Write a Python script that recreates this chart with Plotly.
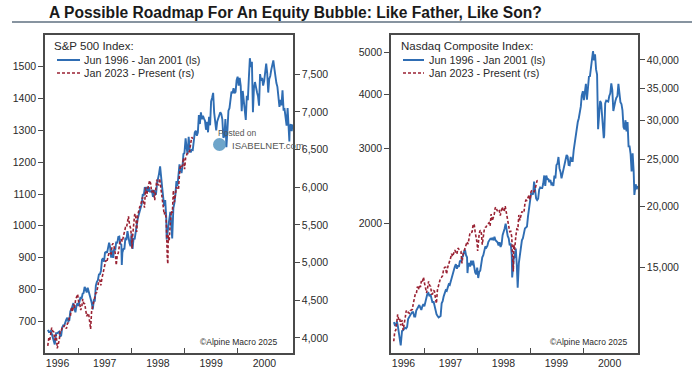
import pandas as pd
import numpy as np
import plotly.graph_objects as go

# ---------------- DATA ----------------
# S&P 500, Jun 1996 - Jan 2001 (left scale)
sp_old = [
("1996-06-07",673),("1996-06-14",666),("1996-06-21",666),("1996-06-28",671),
("1996-07-05",657),("1996-07-12",646),("1996-07-19",638),("1996-07-24",627),("1996-07-26",635),
("1996-08-02",662),("1996-08-09",662),("1996-08-16",665),("1996-08-23",667),("1996-08-30",652),
("1996-09-06",655),("1996-09-13",680),("1996-09-20",687),("1996-09-27",686),
("1996-10-04",701),("1996-10-11",705),("1996-10-18",711),("1996-10-25",700),
("1996-11-01",703),("1996-11-08",731),("1996-11-15",737),("1996-11-22",748),("1996-11-29",757),
("1996-12-06",739),("1996-12-13",728),("1996-12-20",748),("1996-12-27",757),
("1997-01-03",748),("1997-01-10",759),("1997-01-17",776),("1997-01-24",770),("1997-01-31",786),
("1997-02-07",789),("1997-02-14",808),("1997-02-21",801),("1997-02-28",790),
("1997-03-07",805),("1997-03-14",793),("1997-03-21",784),("1997-03-28",773),
("1997-04-04",757),("1997-04-11",737),("1997-04-18",766),("1997-04-25",765),
("1997-05-02",812),("1997-05-09",824),("1997-05-16",829),("1997-05-23",847),("1997-05-30",848),
("1997-06-06",858),("1997-06-13",893),("1997-06-20",898),("1997-06-27",887),
("1997-07-04",916),("1997-07-11",918),("1997-07-18",915),("1997-07-25",938),("1997-08-01",947),
("1997-08-08",933),("1997-08-15",900),("1997-08-22",923),("1997-08-29",899),
("1997-09-05",929),("1997-09-12",923),("1997-09-19",950),("1997-09-26",945),
("1997-10-03",965),("1997-10-10",966),("1997-10-17",944),("1997-10-24",941),("1997-10-27",877),("1997-10-31",915),
("1997-11-07",927),("1997-11-14",928),("1997-11-21",963),("1997-11-28",955),
("1997-12-05",983),("1997-12-12",954),("1997-12-19",946),("1997-12-26",936),
("1998-01-02",975),("1998-01-09",927),("1998-01-16",961),("1998-01-23",957),("1998-01-30",981),
("1998-02-06",1013),("1998-02-13",1021),("1998-02-20",1034),("1998-02-27",1049),
("1998-03-06",1055),("1998-03-13",1069),("1998-03-20",1100),("1998-03-27",1095),
("1998-04-03",1122),("1998-04-10",1110),("1998-04-17",1122),("1998-04-24",1107),
("1998-05-01",1121),("1998-05-08",1108),("1998-05-15",1108),("1998-05-22",1110),("1998-05-29",1091),
("1998-06-05",1113),("1998-06-12",1099),("1998-06-19",1100),("1998-06-26",1133),
("1998-07-03",1147),("1998-07-10",1165),("1998-07-17",1187),("1998-07-24",1141),("1998-07-31",1121),
("1998-08-07",1090),("1998-08-14",1062),("1998-08-21",1081),("1998-08-28",1027),("1998-08-31",957),
("1998-09-04",973),("1998-09-11",1010),("1998-09-18",1020),("1998-09-25",1044),
("1998-10-02",1002),("1998-10-08",960),("1998-10-16",1056),("1998-10-23",1071),("1998-10-30",1099),
("1998-11-06",1141),("1998-11-13",1125),("1998-11-20",1164),("1998-11-27",1193),
("1998-12-04",1177),("1998-12-11",1166),("1998-12-18",1189),("1998-12-24",1226),("1998-12-31",1229),
("1999-01-08",1275),("1999-01-15",1244),("1999-01-22",1225),("1999-01-29",1280),
("1999-02-05",1240),("1999-02-12",1231),("1999-02-19",1239),("1999-02-26",1238),
("1999-03-05",1275),("1999-03-12",1294),("1999-03-19",1299),("1999-03-26",1283),
("1999-04-02",1293),("1999-04-09",1348),("1999-04-16",1320),("1999-04-23",1357),("1999-04-30",1335),
("1999-05-07",1346),("1999-05-14",1337),("1999-05-21",1330),("1999-05-28",1302),
("1999-06-04",1327),("1999-06-11",1294),("1999-06-18",1343),("1999-06-25",1316),
("1999-07-02",1391),("1999-07-09",1403),("1999-07-16",1418),("1999-07-23",1356),("1999-07-30",1329),
("1999-08-06",1300),("1999-08-13",1328),("1999-08-20",1336),("1999-08-27",1348),
("1999-09-03",1357),("1999-09-10",1351),("1999-09-17",1335),("1999-09-24",1277),("1999-10-01",1282),
("1999-10-08",1336),("1999-10-15",1247),("1999-10-22",1301),("1999-10-29",1362),
("1999-11-05",1370),("1999-11-12",1397),("1999-11-19",1422),("1999-11-26",1417),
("1999-12-03",1433),("1999-12-10",1417),("1999-12-17",1421),("1999-12-24",1458),("1999-12-31",1469),
("2000-01-07",1441),("2000-01-14",1465),("2000-01-21",1441),("2000-01-28",1360),
("2000-02-04",1424),("2000-02-11",1387),("2000-02-18",1346),("2000-02-25",1333),
("2000-03-03",1409),("2000-03-10",1395),("2000-03-17",1464),("2000-03-24",1527),("2000-03-31",1499),
("2000-04-07",1516),("2000-04-14",1357),("2000-04-21",1434),("2000-04-28",1452),
("2000-05-05",1432),("2000-05-12",1420),("2000-05-19",1407),("2000-05-26",1378),
("2000-06-02",1477),("2000-06-09",1456),("2000-06-16",1465),("2000-06-23",1441),("2000-06-30",1455),
("2000-07-07",1478),("2000-07-14",1510),("2000-07-21",1480),("2000-07-28",1419),
("2000-08-04",1462),("2000-08-11",1471),("2000-08-18",1491),("2000-08-25",1507),("2000-09-01",1520),
("2000-09-08",1495),("2000-09-15",1466),("2000-09-22",1449),("2000-09-29",1437),
("2000-10-06",1408),("2000-10-13",1374),("2000-10-20",1396),("2000-10-27",1379),
("2000-11-03",1426),("2000-11-10",1366),("2000-11-17",1367),("2000-11-24",1341),
("2000-12-01",1315),("2000-12-08",1370),("2000-12-15",1312),("2000-12-20",1265),("2000-12-22",1305),("2000-12-29",1320),
("2001-01-05",1298),("2001-01-12",1319),
]

# S&P 500, Jan 2023 - present (right scale)
sp_new = [
("2023-01-06",3895),("2023-01-13",3999),("2023-01-20",3973),("2023-01-27",4071),
("2023-02-03",4136),("2023-02-10",4090),("2023-02-17",4079),("2023-02-24",3970),
("2023-03-03",4046),("2023-03-10",3862),("2023-03-17",3917),("2023-03-24",3971),("2023-03-31",4109),
("2023-04-07",4105),("2023-04-14",4138),("2023-04-21",4133),("2023-04-28",4169),
("2023-05-05",4136),("2023-05-12",4124),("2023-05-19",4192),("2023-05-26",4205),
("2023-06-02",4282),("2023-06-09",4299),("2023-06-16",4410),("2023-06-23",4348),("2023-06-30",4450),
("2023-07-07",4399),("2023-07-14",4505),("2023-07-21",4536),("2023-07-28",4582),
("2023-08-04",4478),("2023-08-11",4464),("2023-08-18",4370),("2023-08-25",4406),
("2023-09-01",4516),("2023-09-08",4457),("2023-09-15",4450),("2023-09-22",4320),("2023-09-29",4288),
("2023-10-06",4308),("2023-10-13",4328),("2023-10-20",4224),("2023-10-27",4117),
("2023-11-03",4358),("2023-11-10",4415),("2023-11-17",4514),("2023-11-24",4559),
("2023-12-01",4595),("2023-12-08",4604),("2023-12-15",4719),("2023-12-22",4755),("2023-12-29",4770),
("2024-01-05",4697),("2024-01-12",4784),("2024-01-19",4840),("2024-01-26",4891),
("2024-02-02",4959),("2024-02-09",5027),("2024-02-16",5005),("2024-02-23",5089),
("2024-03-01",5137),("2024-03-08",5124),("2024-03-15",5117),("2024-03-22",5234),("2024-03-28",5254),
("2024-04-05",5204),("2024-04-12",5123),("2024-04-19",4967),("2024-04-26",5100),
("2024-05-03",5128),("2024-05-10",5223),("2024-05-17",5303),("2024-05-24",5305),("2024-05-31",5278),
("2024-06-07",5347),("2024-06-14",5432),("2024-06-21",5465),("2024-06-28",5460),
("2024-07-05",5567),("2024-07-12",5615),("2024-07-19",5505),("2024-07-26",5459),
("2024-08-02",5346),("2024-08-05",5186),("2024-08-09",5344),("2024-08-16",5554),("2024-08-23",5634),("2024-08-30",5648),
("2024-09-06",5408),("2024-09-13",5626),("2024-09-20",5703),("2024-09-27",5738),
("2024-10-04",5751),("2024-10-11",5815),("2024-10-18",5865),("2024-10-25",5808),
("2024-11-01",5729),("2024-11-08",5996),("2024-11-15",5870),("2024-11-22",5969),("2024-11-29",6032),
("2024-12-06",6090),("2024-12-13",6051),("2024-12-20",5931),("2024-12-27",5971),
("2025-01-03",5942),("2025-01-10",5827),("2025-01-17",5997),("2025-01-24",6101),("2025-01-31",6041),
("2025-02-07",6026),("2025-02-14",6115),("2025-02-21",6013),("2025-02-28",5955),
("2025-03-07",5770),("2025-03-14",5639),("2025-03-21",5668),("2025-03-28",5581),
("2025-04-04",5074),("2025-04-08",4982),("2025-04-11",5363),("2025-04-17",5283),("2025-04-25",5525),
("2025-05-02",5687),("2025-05-09",5660),("2025-05-16",5958),("2025-05-23",5803),("2025-05-30",5912),
("2025-06-06",6000),("2025-06-13",5977),("2025-06-20",5968),("2025-06-27",6173),
("2025-07-03",6279),("2025-07-11",6260),("2025-07-18",6297),("2025-07-25",6389),
("2025-08-01",6238),("2025-08-08",6389),("2025-08-15",6450),("2025-08-22",6467),("2025-08-29",6460),
("2025-09-05",6482),("2025-09-12",6584),("2025-09-19",6664),("2025-09-26",6644),
]

# Nasdaq Composite, Jun 1996 - Jan 2001 (left scale)
nq_old = [
("1996-06-07",1180),("1996-06-14",1160),("1996-06-21",1160),("1996-06-28",1185),
("1996-07-05",1150),("1996-07-12",1105),("1996-07-19",1080),("1996-07-24",1042),("1996-07-26",1060),
("1996-08-02",1125),("1996-08-09",1130),("1996-08-16",1135),("1996-08-23",1145),("1996-08-30",1141),
("1996-09-06",1150),("1996-09-13",1200),("1996-09-20",1215),("1996-09-27",1225),
("1996-10-04",1235),("1996-10-11",1245),("1996-10-18",1245),("1996-10-25",1215),
("1996-11-01",1215),("1996-11-08",1255),("1996-11-15",1265),("1996-11-22",1275),("1996-11-29",1293),
("1996-12-06",1275),("1996-12-13",1260),("1996-12-20",1285),("1996-12-27",1300),
("1997-01-03",1285),("1997-01-10",1310),("1997-01-17",1345),("1997-01-24",1375),("1997-01-31",1380),
("1997-02-07",1355),("1997-02-14",1370),("1997-02-21",1340),("1997-02-28",1309),
("1997-03-07",1320),("1997-03-14",1290),("1997-03-21",1255),("1997-03-28",1230),
("1997-04-04",1220),("1997-04-11",1210),("1997-04-18",1215),("1997-04-25",1220),
("1997-05-02",1305),("1997-05-09",1320),("1997-05-16",1355),("1997-05-23",1390),("1997-05-30",1400),
("1997-06-06",1395),("1997-06-13",1430),("1997-06-20",1445),("1997-06-27",1440),
("1997-07-04",1470),("1997-07-11",1500),("1997-07-18",1545),("1997-07-25",1570),("1997-08-01",1590),
("1997-08-08",1610),("1997-08-15",1570),("1997-08-22",1600),("1997-08-29",1587),
("1997-09-05",1640),("1997-09-12",1630),("1997-09-19",1670),("1997-09-26",1680),
("1997-10-03",1720),("1997-10-10",1740),("1997-10-17",1690),("1997-10-24",1670),("1997-10-27",1535),("1997-10-31",1593),
("1997-11-07",1620),("1997-11-14",1590),("1997-11-21",1640),("1997-11-28",1601),
("1997-12-05",1640),("1997-12-12",1560),("1997-12-19",1540),("1997-12-26",1525),
("1998-01-02",1580),("1998-01-09",1495),("1998-01-16",1545),("1998-01-23",1555),("1998-01-30",1619),
("1998-02-06",1670),("1998-02-13",1690),("1998-02-20",1730),("1998-02-27",1771),
("1998-03-06",1760),("1998-03-13",1775),("1998-03-20",1815),("1998-03-27",1835),
("1998-04-03",1845),("1998-04-10",1840),("1998-04-17",1855),("1998-04-24",1830),
("1998-05-01",1865),("1998-05-08",1830),("1998-05-15",1815),("1998-05-22",1810),("1998-05-29",1779),
("1998-06-05",1810),("1998-06-12",1765),("1998-06-19",1790),("1998-06-26",1880),
("1998-07-03",1910),("1998-07-10",1950),("1998-07-17",2000),("1998-07-24",1930),("1998-07-31",1873),
("1998-08-07",1850),("1998-08-14",1780),("1998-08-21",1800),("1998-08-28",1690),("1998-08-31",1499),
("1998-09-04",1575),("1998-09-11",1660),("1998-09-18",1680),("1998-09-25",1750),
("1998-10-02",1600),("1998-10-08",1419),("1998-10-16",1620),("1998-10-23",1690),("1998-10-30",1771),
("1998-11-06",1830),("1998-11-13",1850),("1998-11-20",1905),("1998-11-27",1950),
("1998-12-04",1960),("1998-12-11",1970),("1998-12-18",2080),("1998-12-24",2150),("1998-12-31",2193),
("1999-01-08",2350),("1999-01-15",2350),("1999-01-22",2340),("1999-01-29",2505),
("1999-02-05",2370),("1999-02-12",2290),("1999-02-19",2270),("1999-02-26",2288),
("1999-03-05",2400),("1999-03-12",2430),("1999-03-19",2420),("1999-03-26",2420),
("1999-04-02",2480),("1999-04-09",2590),("1999-04-16",2450),("1999-04-23",2590),("1999-04-30",2543),
("1999-05-07",2540),("1999-05-14",2500),("1999-05-21",2530),("1999-05-28",2470),
("1999-06-04",2480),("1999-06-11",2450),("1999-06-18",2590),("1999-06-25",2550),
("1999-07-02",2740),("1999-07-09",2760),("1999-07-16",2860),("1999-07-23",2690),("1999-07-30",2640),
("1999-08-06",2550),("1999-08-13",2620),("1999-08-20",2650),("1999-08-27",2760),
("1999-09-03",2840),("1999-09-10",2890),("1999-09-17",2870),("1999-09-24",2740),("1999-10-01",2735),
("1999-10-08",2860),("1999-10-15",2800),("1999-10-22",2800),("1999-10-29",2966),
("1999-11-05",3100),("1999-11-12",3220),("1999-11-19",3370),("1999-11-26",3450),
("1999-12-03",3520),("1999-12-10",3620),("1999-12-17",3750),("1999-12-23",3970),("1999-12-31",4069),
("2000-01-07",3880),("2000-01-14",4060),("2000-01-21",4235),("2000-01-28",3890),
("2000-02-04",4245),("2000-02-11",4400),("2000-02-18",4410),("2000-02-25",4590),
("2000-03-03",4915),("2000-03-10",5048),("2000-03-17",4800),("2000-03-24",4960),("2000-03-31",4573),
("2000-04-07",4450),("2000-04-14",3321),("2000-04-21",3640),("2000-04-28",3860),
("2000-05-05",3820),("2000-05-12",3530),("2000-05-19",3390),("2000-05-23",3164),("2000-05-26",3205),
("2000-06-02",3810),("2000-06-09",3870),("2000-06-16",3860),("2000-06-23",3850),("2000-06-30",3966),
("2000-07-07",4025),("2000-07-14",4246),("2000-07-21",4095),("2000-07-28",3660),
("2000-08-04",3790),("2000-08-11",3860),("2000-08-18",3930),("2000-08-25",3960),("2000-09-01",4234),
("2000-09-08",3980),("2000-09-15",3835),("2000-09-22",3800),("2000-09-29",3673),
("2000-10-06",3360),("2000-10-13",3316),("2000-10-20",3483),("2000-10-27",3280),
("2000-11-03",3451),("2000-11-10",3028),("2000-11-17",3028),("2000-11-24",2904),
("2000-12-01",2646),("2000-12-08",2917),("2000-12-15",2653),("2000-12-20",2333),("2000-12-29",2471),
("2001-01-05",2407),("2001-01-12",2450),
]

# Nasdaq Composite, Jan 2023 - present (right scale)
nq_new = [
("2023-01-06",10570),("2023-01-13",11079),("2023-01-20",11140),("2023-01-27",11622),
("2023-02-03",12007),("2023-02-10",11718),("2023-02-17",11787),("2023-02-24",11395),
("2023-03-03",11689),("2023-03-10",11139),("2023-03-17",11630),("2023-03-24",11824),("2023-03-31",12222),
("2023-04-07",12088),("2023-04-14",12123),("2023-04-21",12072),("2023-04-28",12226),
("2023-05-05",12235),("2023-05-12",12284),("2023-05-19",12658),("2023-05-26",12975),
("2023-06-02",13241),("2023-06-09",13259),("2023-06-16",13689),("2023-06-23",13492),("2023-06-30",13788),
("2023-07-07",13660),("2023-07-14",14113),("2023-07-21",14032),("2023-07-28",14317),
("2023-08-04",13909),("2023-08-11",13644),("2023-08-18",13290),("2023-08-25",13590),
("2023-09-01",14031),("2023-09-08",13761),("2023-09-15",13708),("2023-09-22",13212),("2023-09-29",13219),
("2023-10-06",13431),("2023-10-13",13407),("2023-10-20",12984),("2023-10-27",12643),
("2023-11-03",13478),("2023-11-10",13798),("2023-11-17",14125),("2023-11-24",14250),
("2023-12-01",14305),("2023-12-08",14404),("2023-12-15",14814),("2023-12-22",14993),("2023-12-29",15011),
("2024-01-05",14524),("2024-01-12",14973),("2024-01-19",15311),("2024-01-26",15455),
("2024-02-02",15629),("2024-02-09",15990),("2024-02-16",15776),("2024-02-23",15997),
("2024-03-01",16275),("2024-03-08",16085),("2024-03-15",15973),("2024-03-22",16429),("2024-03-28",16379),
("2024-04-05",16249),("2024-04-12",16175),("2024-04-19",15282),("2024-04-26",15928),
("2024-05-03",16156),("2024-05-10",16341),("2024-05-17",16686),("2024-05-24",16921),("2024-05-31",16735),
("2024-06-07",17133),("2024-06-14",17689),("2024-06-21",17689),("2024-06-28",17733),
("2024-07-05",18353),("2024-07-12",18398),("2024-07-19",17727),("2024-07-26",17358),
("2024-08-02",16776),("2024-08-05",16200),("2024-08-09",16745),("2024-08-16",17631),("2024-08-23",17877),("2024-08-30",17714),
("2024-09-06",16691),("2024-09-13",17684),("2024-09-20",17948),("2024-09-27",18120),
("2024-10-04",18138),("2024-10-11",18343),("2024-10-18",18490),("2024-10-25",18519),
("2024-11-01",18240),("2024-11-08",19287),("2024-11-15",18680),("2024-11-22",19004),("2024-11-29",19218),
("2024-12-06",19860),("2024-12-13",19927),("2024-12-20",19573),("2024-12-27",19722),
("2025-01-03",19622),("2025-01-10",19162),("2025-01-17",19630),("2025-01-24",19954),("2025-01-31",19627),
("2025-02-07",19524),("2025-02-14",20027),("2025-02-21",19524),("2025-02-28",18847),
("2025-03-07",18196),("2025-03-14",17754),("2025-03-21",17784),("2025-03-28",17323),
("2025-04-04",15588),("2025-04-08",14700),("2025-04-11",16724),("2025-04-17",16286),("2025-04-25",17383),
("2025-05-02",17978),("2025-05-09",17929),("2025-05-16",19211),("2025-05-23",18737),("2025-05-30",19114),
("2025-06-06",19530),("2025-06-13",19407),("2025-06-20",19447),("2025-06-27",20273),
("2025-07-03",20601),("2025-07-11",20586),("2025-07-18",20896),("2025-07-25",21108),
("2025-08-01",20650),("2025-08-08",21450),("2025-08-15",21622),("2025-08-22",21496),("2025-08-29",21455),
("2025-09-05",21700),("2025-09-12",22141),("2025-09-19",22631),("2025-09-26",22484),
]

year_labels = ["1996", "1997", "1998", "1999", "2000"]
sp_left_ticks = [700, 800, 900, 1000, 1100, 1200, 1300, 1400, 1500]
sp_right_ticks = [4000, 4500, 5000, 5500, 6000, 6500, 7000, 7500]
nq_left_ticks = [2000, 3000, 4000, 5000]
nq_right_ticks = [15000, 20000, 25000, 30000, 35000, 40000]
legend_old = "Jun 1996 - Jan 2001 (ls)"
legend_new = "Jan 2023 - Present (rs)"

# ---------------- STYLE ----------------
BLUE = "#2f6db3"
RED = "#9a2233"
FRAME = "#4a4a4a"
FONT = "Liberation Sans"
TXT = "#2a2a2a"

# Alignment: Jan 2023 is plotted at Jun 1996
SHIFT = pd.DateOffset(years=26, months=7)


def split(pairs, shift=False):
    d = pd.to_datetime([p[0] for p in pairs])
    if shift:
        d = d - SHIFT
    return d, [p[1] for p in pairs]


fig = go.Figure()
BLUE_LINE = dict(color=BLUE, width=1.9)
RED_LINE = dict(color=RED, width=1.6, dash="3px,2px")

x, y = split(sp_old)
fig.add_trace(go.Scatter(x=x, y=y, mode="lines", name=legend_old, line=BLUE_LINE,
                         xaxis="x", yaxis="y"))
x, y = split(sp_new, True)
fig.add_trace(go.Scatter(x=x, y=y, mode="lines", name=legend_new, line=RED_LINE,
                         xaxis="x", yaxis="y2"))
x, y = split(nq_old)
fig.add_trace(go.Scatter(x=x, y=y, mode="lines", name=legend_old, line=BLUE_LINE,
                         xaxis="x2", yaxis="y3"))
x, y = split(nq_new, True)
fig.add_trace(go.Scatter(x=x, y=y, mode="lines", name=legend_new, line=RED_LINE,
                         xaxis="x2", yaxis="y4"))

W, H = 700, 375
def px(v):
    return v / W
def py(v):
    return 1 - v / H

label_pos = ["1996-08-12", "1997-07-02", "1998-07-02", "1999-07-02", "2000-07-02"]
year_bounds = ["1997-01-01", "1998-01-01", "1999-01-01", "2000-01-01"]
xrange_ = ["1996-05-18", "2001-01-14"]

tickfont = dict(family=FONT, size=10.5, color=TXT)

def xaxis(dom):
    return dict(domain=dom, type="date", range=xrange_, tickvals=label_pos, ticktext=year_labels,
                ticks="", showgrid=False, zeroline=False, showline=True, linecolor=FRAME,
                linewidth=1.5, mirror=True, tickfont=tickfont, fixedrange=True,
                minor=dict(tickvals=year_bounds, ticks="inside", ticklen=5, tickwidth=1.2,
                           tickcolor=FRAME, showgrid=False))

ydom = [py(353), py(35)]
yl = dict(showgrid=False, zeroline=False, showline=True, linecolor=FRAME, linewidth=1.5,
          ticks="outside", ticklen=5, tickwidth=1.2, tickcolor=FRAME, tickfont=tickfont,
          fixedrange=True)

fig.update_layout(
    width=W, height=H, margin=dict(l=0, r=0, t=0, b=0),
    paper_bgcolor="white", plot_bgcolor="white",
    showlegend=False,
    xaxis=xaxis([px(45), px(293)]),
    xaxis2=xaxis([px(391), px(638)]),
    yaxis=dict(domain=ydom, anchor="x", range=[600, 1600], tickvals=sp_left_ticks,
               tickformat="d", **yl),
    yaxis2=dict(domain=ydom, anchor="x", overlaying="y", side="right", range=[3800, 8020],
                tickvals=sp_right_ticks, tickformat=",", **yl),
    yaxis3=dict(domain=ydom, anchor="x2", type="log", range=[3.0, np.log10(5500)],
                tickvals=nq_left_ticks, tickformat="d", **yl),
    yaxis4=dict(domain=ydom, anchor="x2", overlaying="y3", side="right", type="log",
                range=[4.0, np.log10(45000)], tickvals=nq_right_ticks, tickformat=",", **yl),
)


def ann(text, x, y, size, anchor="left", color=TXT):
    return dict(text=text, x=px(x), y=py(y), xref="paper", yref="paper", xanchor=anchor,
                yanchor="middle", showarrow=False, font=dict(family=FONT, size=size, color=color))


annotations = [
    ann("<b>A Possible Roadmap For An Equity Bubble: Like Father, Like Son?</b>", 47, 12, 15.6,
        color="#1a1a1a"),
    # left legend
    ann("S&P 500 Index:", 52, 46, 11.5),
    ann(legend_old, 82, 60, 10.8),
    ann(legend_new, 82, 73, 10.8),
    # right legend
    ann("Nasdaq Composite Index:", 399, 46, 11.5),
    ann(legend_old, 427, 60, 10.8),
    ann(legend_new, 427, 73, 10.8),
    ann("©Alpine Macro 2025", 279, 342, 8.5, "right"),
    ann("©Alpine Macro 2025", 629, 342, 8.5, "right"),
    ann("Posted on", 216, 133, 8.5, color="#555"),
    ann("ISABELNET.com", 230, 145, 9.5, color="#555"),
]
fig.update_layout(annotations=annotations)


def hline(x0, x1, y, line):
    return dict(type="line", xref="paper", yref="paper", x0=px(x0), x1=px(x1),
                y0=py(y), y1=py(y), line=line)


fig.update_layout(shapes=[
    hline(12, 692, 22, dict(color="#5f7080", width=1.5)),
    hline(57, 80, 60, dict(color=BLUE, width=2)),
    hline(57, 80, 73, dict(color=RED, width=1.6, dash="3px,2px")),
    hline(403, 424, 60, dict(color=BLUE, width=2)),
    hline(403, 424, 73, dict(color=RED, width=1.6, dash="3px,2px")),
    dict(type="circle", xref="paper", yref="paper", x0=px(213), x1=px(226), y0=py(151), y1=py(138),
         fillcolor="#3d87b8", line=dict(width=0), opacity=0.75),
])

fig.write_html("out.html", config={"displayModeBar": False},
               post_script="document.body.style.margin='0';document.body.style.overflow='hidden';")
